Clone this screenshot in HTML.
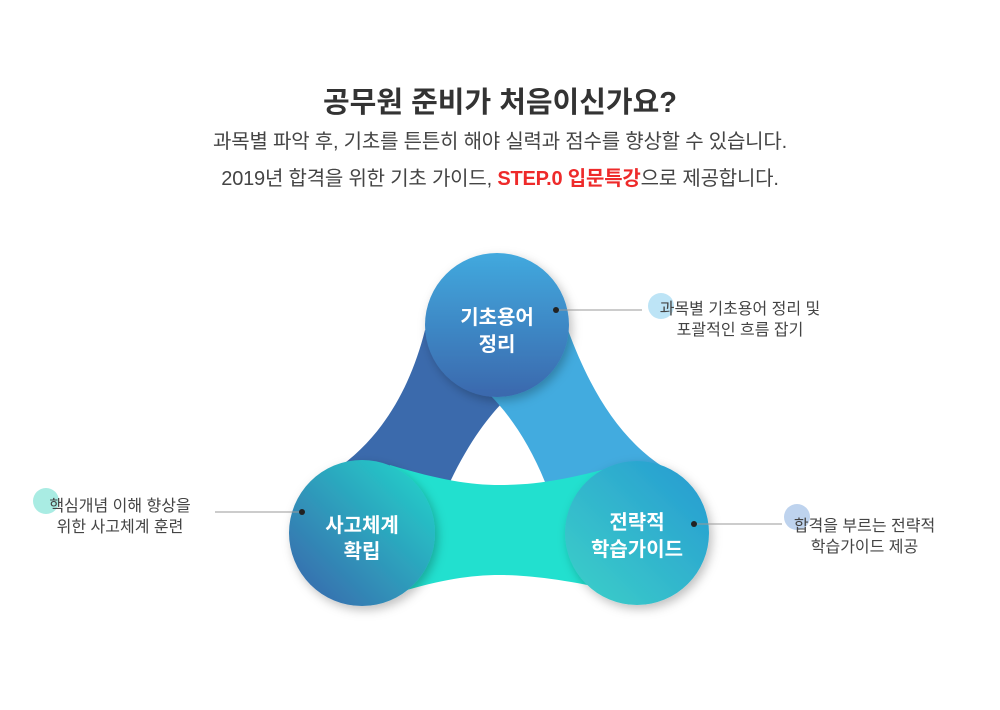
<!DOCTYPE html>
<html><head><meta charset="utf-8"><style>
html,body{margin:0;padding:0;background:#fff;}
body{width:1000px;height:710px;position:relative;overflow:hidden;font-family:"Liberation Sans","Noto Sans CJK KR",sans-serif;}
.t{position:absolute;left:0;width:1000px;text-align:center;white-space:nowrap;}
.lbl{position:absolute;font-size:16px;color:#444;text-align:center;line-height:21px;letter-spacing:0;white-space:nowrap;}
</style></head><body>
<div class="t" style="top:79px;font-size:29px;font-weight:bold;color:#333;letter-spacing:0;">공무원 준비가 처음이신가요?</div>
<div class="t" style="top:125px;font-size:20px;color:#444;letter-spacing:-0.2px;">과목별 파악 후, 기초를 튼튼히 해야 실력과 점수를 향상할 수 있습니다.</div>
<div class="t" style="top:162px;font-size:20px;color:#444;letter-spacing:-0.2px;">2019년 합격을 위한 기초 가이드, <b style="color:#ee2a2a">STEP.0 입문특강</b>으로 제공합니다.</div>

<svg width="1000" height="710" style="position:absolute;left:0;top:0">
<defs>
<linearGradient id="gt" x1="0" y1="0" x2="0" y2="1"><stop offset="0" stop-color="#42a9de"/><stop offset="1" stop-color="#3a68ad"/></linearGradient>
<linearGradient id="gl" x1="1" y1="0" x2="0" y2="1"><stop offset="0" stop-color="#22d8cc"/><stop offset="1" stop-color="#3a62ab"/></linearGradient>
<linearGradient id="gr" x1="1" y1="0" x2="0" y2="1"><stop offset="0" stop-color="#2699d2"/><stop offset="1" stop-color="#3dd1c8"/></linearGradient>
<filter id="sh" x="-30%" y="-30%" width="160%" height="160%"><feDropShadow dx="3" dy="4" stdDeviation="5" flood-color="#000" flood-opacity="0.25"/></filter>
</defs>
<path d="M425,330 C410,390 380,440 335,470 L450,482 C470,440 490,415 505,400 Z" fill="#3b6aac"/>
<path d="M568,330 C590,390 620,440 665,468 L545,482 C530,445 510,415 490,395 Z" fill="#42abdf"/>
<path d="M390,465 C440,480 470,485 500,485 C540,485 570,478 610,468 L610,590 C560,578 520,575 500,575 C470,575 440,580 400,592 Z" fill="#22e0cf"/>
<circle cx="497" cy="325" r="72" fill="url(#gt)" filter="url(#sh)"/>
<circle cx="362" cy="533" r="73" fill="url(#gl)" filter="url(#sh)"/>
<circle cx="637" cy="533" r="72" fill="url(#gr)" filter="url(#sh)"/>
<g stroke="#999" stroke-width="1"><line x1="556" y1="310" x2="642" y2="310"/><line x1="215" y1="512" x2="302" y2="512"/><line x1="694" y1="524" x2="782" y2="524"/></g>
<g fill="#222"><circle cx="556" cy="310" r="3"/><circle cx="302" cy="512" r="3"/><circle cx="694" cy="524" r="3"/></g>
<circle cx="661" cy="306" r="13" fill="#bde4f6"/>
<circle cx="46" cy="501" r="13" fill="#a9ece3"/>
<circle cx="797" cy="517" r="13" fill="#bed3ee"/>
<g font-family="Liberation Sans, Noto Sans CJK KR, sans-serif" font-size="20" font-weight="bold" fill="#fff" text-anchor="middle">
<text x="497" y="324">기초용어</text><text x="497" y="351">정리</text>
<text x="362" y="532">사고체계</text><text x="362" y="558">확립</text>
<text x="637" y="529">전략적</text><text x="637" y="556">학습가이드</text>
</g>
</svg>
<div class="lbl" style="left:645px;top:299px;width:190px;">과목별 기초용어 정리 및<br>포괄적인 흐름 잡기</div>
<div class="lbl" style="left:20px;top:496px;width:200px;">핵심개념 이해 향상을<br>위한 사고체계 훈련</div>
<div class="lbl" style="left:772px;top:516px;width:185px;">합격을 부르는 전략적<br>학습가이드 제공</div>
</body></html>
